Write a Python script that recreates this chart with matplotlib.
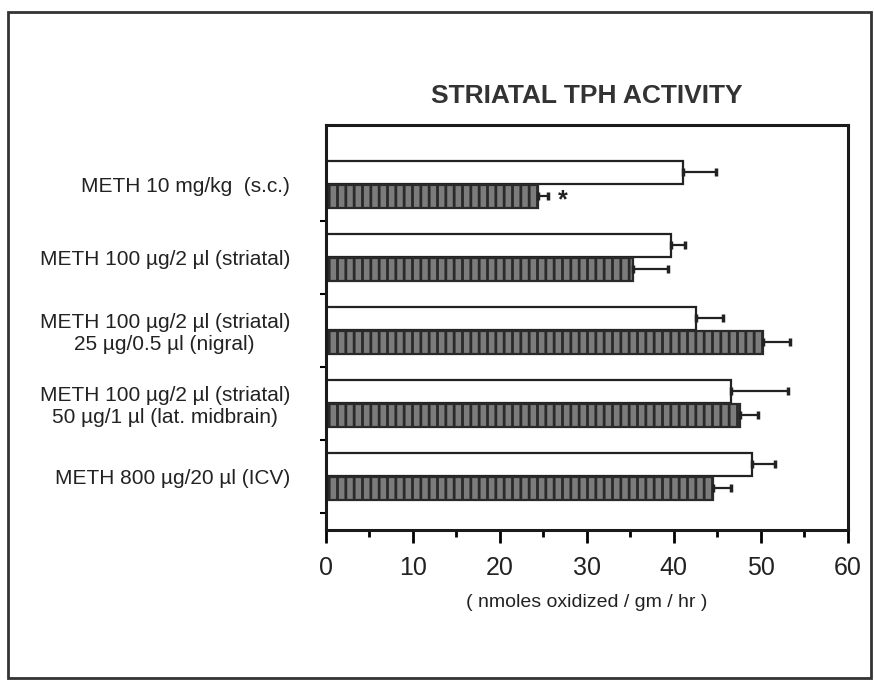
import matplotlib
matplotlib.use("Agg")
import matplotlib.pyplot as plt
from matplotlib.patches import Rectangle
import numpy as np

plt.rcParams['font.family'] = ['Liberation Sans', 'DejaVu Sans']
plt.rcParams['hatch.linewidth'] = 2.0

categories = [
    "METH 10 mg/kg  (s.c.)",
    "METH 100 µg/2 µl (striatal)",
    "METH 100 µg/2 µl (striatal)\n25 µg/0.5 µl (nigral)",
    "METH 100 µg/2 µl (striatal)\n50 µg/1 µl (lat. midbrain)",
    "METH 800 µg/20 µl (ICV)",
]
control_vals = [41.0, 39.7, 42.5, 46.6, 49.0]
control_err = [3.8, 1.6, 3.2, 6.5, 2.6]
meth_vals = [24.4, 35.3, 50.3, 47.6, 44.5]
meth_err = [1.1, 4.0, 3.0, 2.1, 2.1]
significant = [True, False, False, False, False]
xticks = [0, 10, 20, 30, 40, 50, 60]

fig = plt.figure(figsize=(8.74, 6.8), dpi=100)
fig.patch.set_facecolor('white')
ax = fig.add_axes([0.373, 0.221, 0.597, 0.595])

idx = np.arange(len(categories))
h = 0.32
off = 0.165
ax.barh(idx - off, control_vals, height=h, color='white', edgecolor='#222222', linewidth=1.6)
ax.barh(idx + off, meth_vals, height=h, color='#7c7c7c', edgecolor='#2a2a2a', linewidth=1.6, hatch='||')
ax.errorbar(control_vals, idx - off, xerr=[np.zeros(5), control_err], fmt='none',
            ecolor='#222222', elinewidth=1.6, capsize=3, capthick=2.5)
ax.errorbar(meth_vals, idx + off, xerr=[np.zeros(5), meth_err], fmt='none',
            ecolor='#222222', elinewidth=1.6, capsize=3, capthick=2.5)
for i, s in enumerate(significant):
    if s:
        ax.text(meth_vals[i] + meth_err[i] + 1.2, idx[i] + off + 0.05, '*', fontsize=18,
                ha='left', va='center', color='#222222', fontweight='bold')

ax.set_xlim(0, 60)
ax.set_ylim(4.73, -0.81)
ax.set_xticks(xticks)
ax.set_xticks(np.arange(5, 60, 10), minor=True)
ax.set_xticklabels([str(t) for t in xticks], fontsize=18, color='#222222')
ax.tick_params(axis='x', which='major', direction='out', length=9, width=2, pad=10)
ax.tick_params(axis='x', which='minor', direction='out', length=5, width=2)
ax.set_yticks(idx)
ax.set_yticklabels(categories, fontsize=15, color='#222222', multialignment='center')
ax.tick_params(axis='y', which='major', length=0, pad=26)
ax.set_yticks(idx + 0.5, minor=True)
ax.tick_params(axis='y', which='minor', direction='out', length=4, width=1.5)
for sp in ax.spines.values():
    sp.set_linewidth(2.2)
    sp.set_color('#1a1a1a')

ax.set_title("STRIATAL TPH ACTIVITY", fontsize=19, fontweight='bold', color='#333333', pad=16)
ax.set_xlabel("( nmoles oxidized / gm / hr )", fontsize=14, color='#222222', labelpad=10)

fig.patches.append(Rectangle((8/874, 1-678/680), (871-8)/874, (678-12)/680,
                             transform=fig.transFigure, fill=False, edgecolor='#333333', linewidth=2))

fig.savefig("out.png", dpi=100)
